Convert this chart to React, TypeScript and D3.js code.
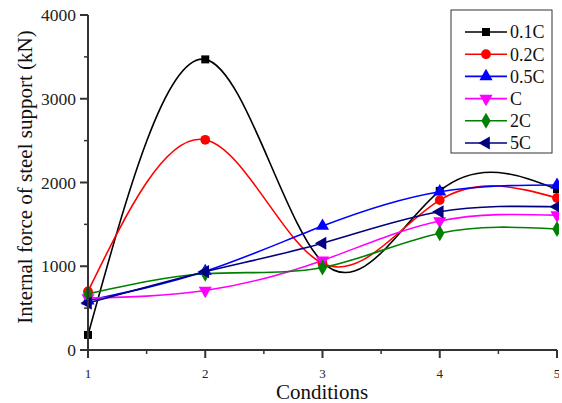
import React from "react";
import * as d3 from "d3";

const conditions = [1, 2, 3, 4, 5];
const seriesNames = ["0.1C", "0.2C", "0.5C", "C", "2C", "5C"];
const v01C = [180, 3470, 1050, 1900, 1920];
const v02C = [700, 2510, 1035, 1790, 1815];
const v05C = [590, 940, 1480, 1890, 1970];
const vC = [620, 710, 1070, 1540, 1610];
const v2C = [670, 910, 985, 1395, 1445];
const v5C = [560, 935, 1275, 1650, 1710];
const yTicks = [0, 1000, 2000, 3000, 4000];
const xTicks = [1, 2, 3, 4, 5];

const colors = ["#000000", "#ff0000", "#0000ff", "#ff00ff", "#008000", "#000080"];
const shapes = ["square", "circle", "triUp", "triDown", "diamond", "triLeft"];
const values = [v01C, v02C, v05C, vC, v2C, v5C];

const font = "'Liberation Serif', 'Times New Roman', serif";

function markerPath(shape: string): { d: string; rot: number } {
  const s = (t: any, size: number) => d3.symbol().type(t).size(size)() as string;
  switch (shape) {
    case "square": return { d: s(d3.symbolSquare, 64), rot: 0 };
    case "circle": return { d: s(d3.symbolCircle, 75), rot: 0 };
    case "triUp": return { d: s(d3.symbolTriangle, 75), rot: 0 };
    case "triDown": return { d: s(d3.symbolTriangle, 75), rot: 180 };
    case "diamond": return { d: s(d3.symbolDiamond, 75), rot: 0 };
    default: return { d: s(d3.symbolTriangle, 75), rot: -90 };
  }
}

export default function App() {
  const W = 562, H = 403;
  const x = d3.scaleLinear().domain([1, 5]).range([88, 557]);
  const y = d3.scaleLinear().domain([0, 4000]).range([350, 15]);
  const line = d3.line<number>()
    .x((_, i) => x(conditions[i]))
    .y((d) => y(d))
    .curve(d3.curveNatural);
  const axisColor = "#333";
  const minorY = d3.range(500, 4000, 1000);
  const minorX = [1.5, 2.5, 3.5, 4.5];
  return (
    <svg width={W} height={H} style={{ position: "absolute", left: 0, top: 0, background: "#fff" }}>
      <defs>
        <clipPath id="clipAll"><rect x={0} y={0} width={559} height={H} /></clipPath>
      </defs>
      <g clipPath="url(#clipAll)">
        {values.map((vals, si) => (
          <path key={"l" + si} d={line(vals) as string} fill="none" stroke={colors[si]} strokeWidth={1.6} />
        ))}
        {values.map((vals, si) => {
          const m = markerPath(shapes[si]);
          return vals.map((v, i) => (
            <path key={"m" + si + "-" + i} d={m.d} fill={colors[si]}
              transform={`translate(${x(conditions[i])},${y(v)}) rotate(${m.rot})`} />
          ));
        })}
        <line x1={88} x2={88} y1={y(4000)} y2={351} stroke={axisColor} strokeWidth={2} />
        <line x1={87} x2={557} y1={350} y2={350} stroke={axisColor} strokeWidth={2} />
        {yTicks.map((t) => (
          <g key={"yt" + t}>
            <line x1={80} x2={88} y1={y(t)} y2={y(t)} stroke={axisColor} strokeWidth={2} />
            <text x={76} y={y(t)} dy="0.35em" textAnchor="end" fontFamily={font} fontSize={17.5} fill="#222">{t}</text>
          </g>
        ))}
        {minorY.map((t) => (
          <line key={"ym" + t} x1={84} x2={88} y1={y(t)} y2={y(t)} stroke={axisColor} strokeWidth={1.5} />
        ))}
        {xTicks.map((t) => (
          <g key={"xt" + t}>
            <line x1={x(t)} x2={x(t)} y1={350} y2={358} stroke={axisColor} strokeWidth={2} />
            <text x={x(t)} y={373} dy="0.35em" textAnchor="middle" fontFamily={font} fontSize={13} fill="#222">{t}</text>
          </g>
        ))}
        {minorX.map((t) => (
          <line key={"xm" + t} x1={x(t)} x2={x(t)} y1={350} y2={354} stroke={axisColor} strokeWidth={1.5} />
        ))}
        <text x={322} y={399} textAnchor="middle" fontFamily={font} fontSize={21} fill="#111">Conditions</text>
        <text transform="translate(32,177) rotate(-90)" textAnchor="middle" fontFamily={font} fontSize={21} fill="#111">
          Internal force of steel support (kN)
        </text>
        <rect x={451} y={10} width={101} height={143} fill="#fff" stroke="#333" strokeWidth={1} />
        {seriesNames.map((n, si) => {
          const ly = 32 + si * 22.2;
          const m = markerPath(shapes[si]);
          return (
            <g key={"lg" + si}>
              <line x1={465} x2={507} y1={ly} y2={ly} stroke={colors[si]} strokeWidth={1.6} />
              <path d={m.d} fill={colors[si]} transform={`translate(486,${ly}) rotate(${m.rot})`} />
              <text x={510} y={ly} dy="0.35em" fontFamily={font} fontSize={18} fill="#111">{n}</text>
            </g>
          );
        })}
      </g>
    </svg>
  );
}
